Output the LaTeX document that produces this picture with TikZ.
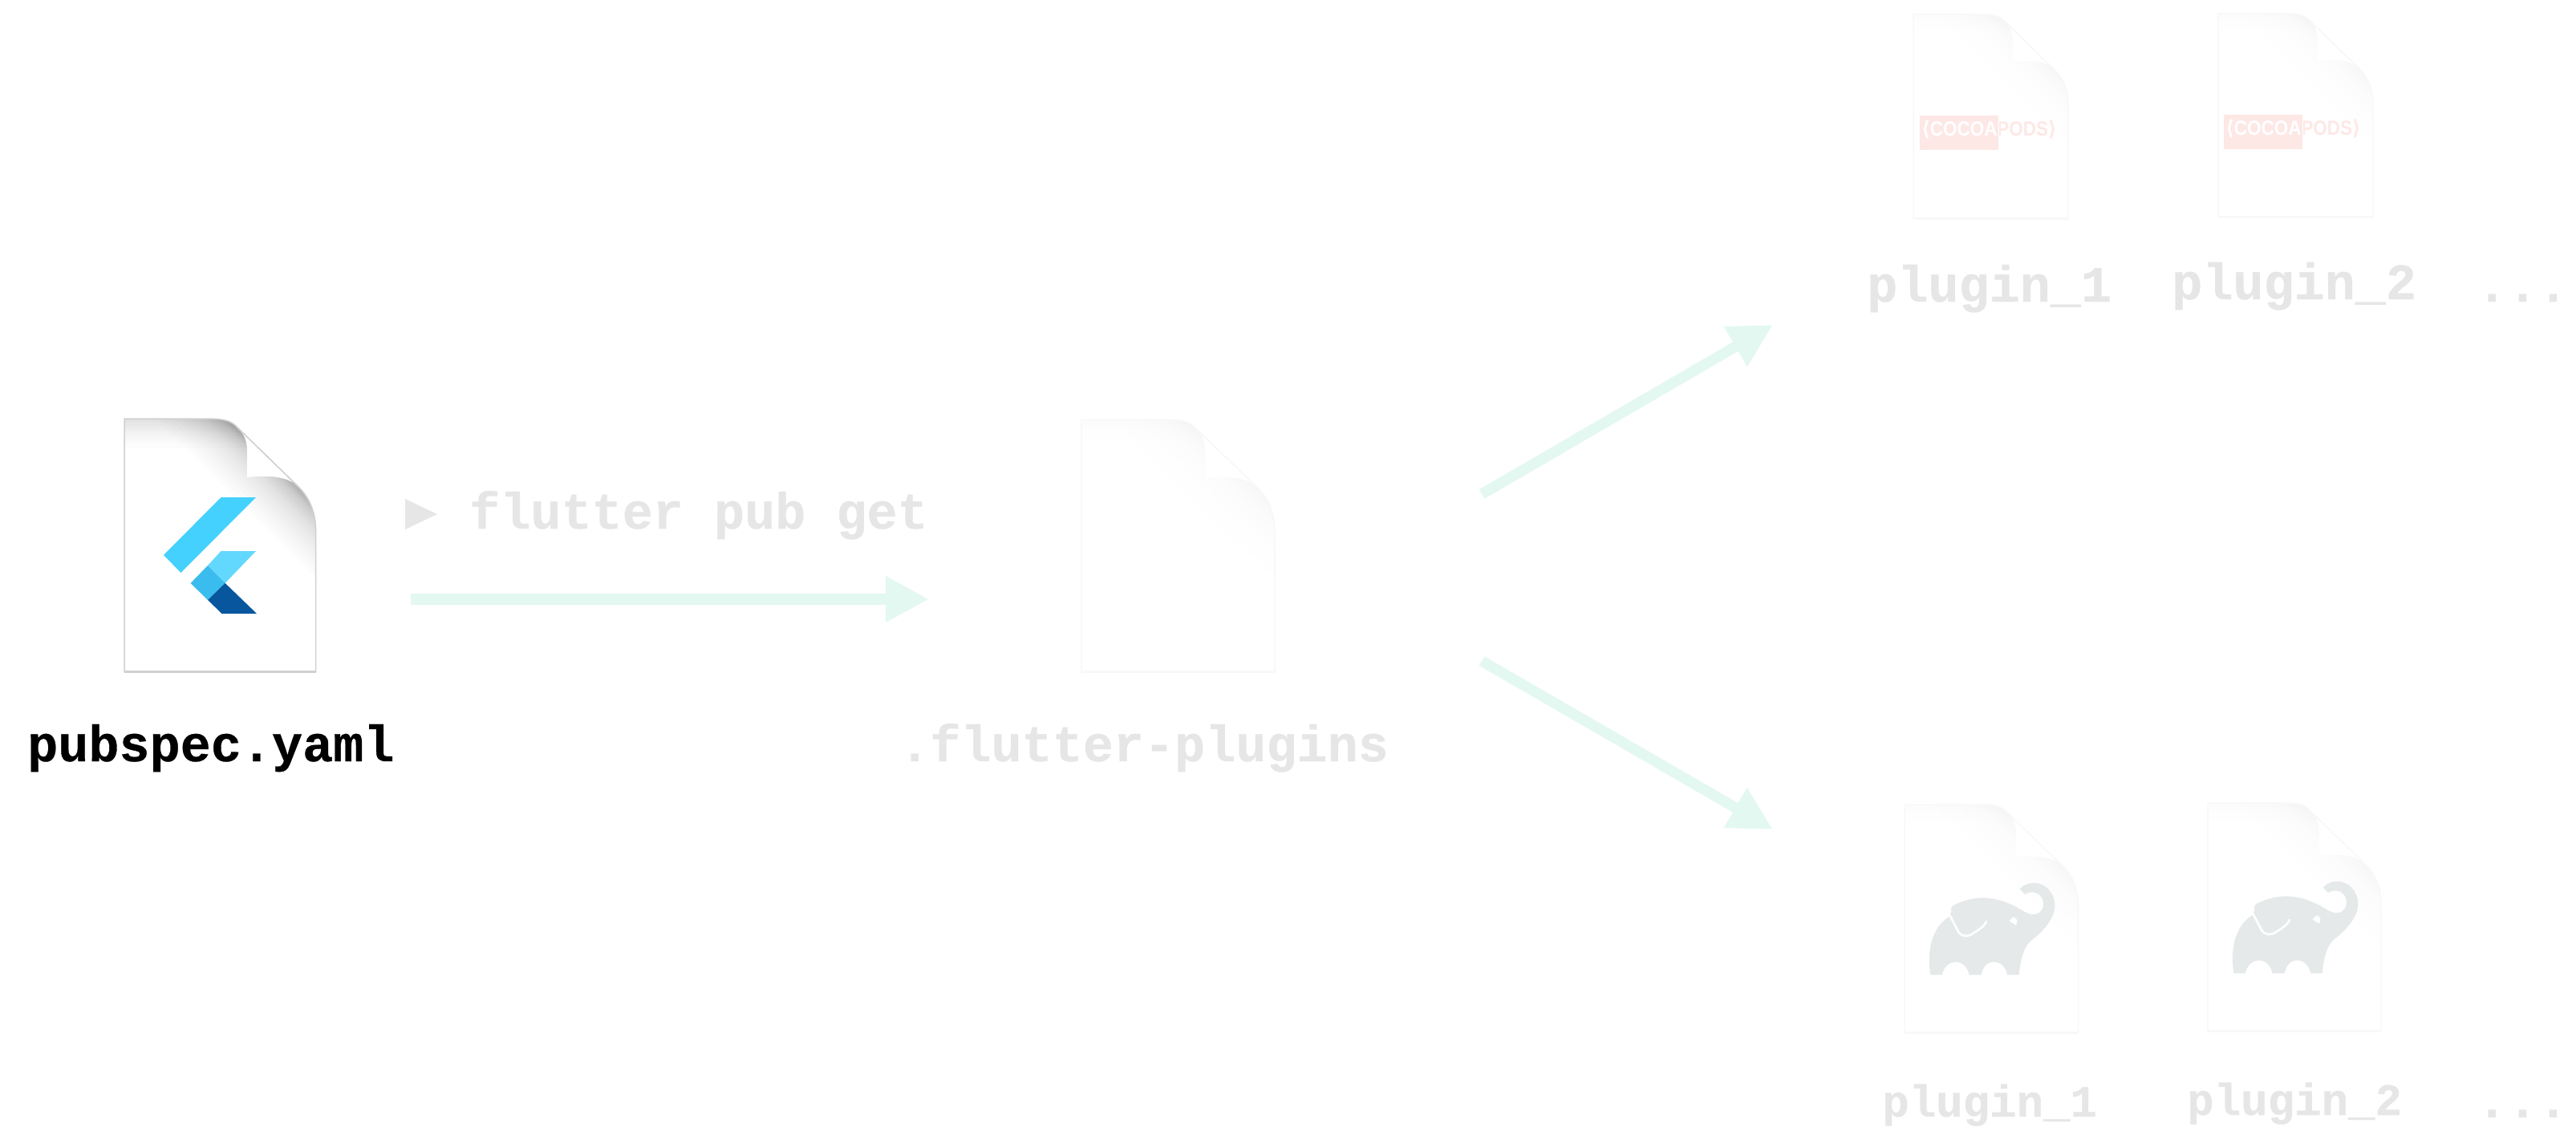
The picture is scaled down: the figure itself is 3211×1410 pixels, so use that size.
\documentclass[tikz,border=0pt]{standalone}
\usepackage{fontspec}
\setmonofont[FakeBold=0.5]{Liberation Mono}
\newfontfamily\cocoafont{Liberation Sans}
\newfontfamily\cocoabr{DejaVu Sans}
\usetikzlibrary{arrows.meta}
\definecolor{arrowc}{HTML}{E3F8F1}
\definecolor{mutedtxt}{HTML}{E6E6E6}
\definecolor{podred}{HTML}{FDE8E6}
\definecolor{eleph}{HTML}{E6E9EA}
\definecolor{fl1}{HTML}{44D1FD}
\definecolor{fl2}{HTML}{63D8FE}
\definecolor{fl3}{HTML}{3ABCEE}
\definecolor{fl4}{HTML}{07569E}
\definecolor{strongedge}{HTML}{D0D0D0}
\definecolor{softedge}{HTML}{F8F8F8}
\tikzset{
  monolabel/.style={anchor=base west,inner sep=0pt,font=\ttfamily\bfseries\fontsize{63.5}{70}\selectfont,text=mutedtxt},
  smalllabel/.style={monolabel,font=\ttfamily\bfseries\fontsize{55.8}{60}\selectfont},
  flowarrow/.style={draw=arrowc,line width=13.3pt,-{Triangle[length=54pt,width=54pt,fill=arrowc]}},
  podtext/.style={anchor=center,inner sep=0pt,font=\fontsize{25.5}{28}\selectfont},
}
\def\docoutline{(0,0) -- (103,0) .. controls (125,0) and (134,3) .. (141,11) -- (215,83) .. controls (230,97) and (238.6,115) .. (238.6,140) -- (238.6,315) -- (0,315) -- cycle}
% #1 x, #2 y, #3 width, #4 height, #5 edge colour, #6 band opacity, #7 diagonal bands, #8 top bands
\newcommand\filedoc[8]{%
  \begin{scope}[shift={(#1,#2)},xscale=#3/238.6,yscale=#4/315]
    \fill[white] \docoutline;
    \begin{scope}
      \clip \docoutline;
      \foreach \d in {#8}{
        \fill[black,fill opacity=#6] (-10,-10) rectangle (260,\d);
      }
      \foreach \d in {#7}{
        \pgfmathsetmacro\px{141-\d*0.7071}
        \pgfmathsetmacro\py{11+\d*0.7071}
        \fill[black,fill opacity=#6] (\px-300,\py-300) -- (\px+300,\py+300) -- (\px+700,\py-700) -- cycle;
      }
    \end{scope}
    \fill[white] (141,11) .. controls (150,20) and (153,28) .. (153,40) -- (153,73) .. controls (180,70) and (202,72) .. (215,83) -- cycle;
    \draw[#5,line width=1.2pt] (141,11) -- (215,83);
    \draw[#5,line width=1.5pt] \docoutline;
    \draw[#5,line width=2.5pt] (0,315.5) -- (238.6,315.5);
  \end{scope}%
}
\newcommand\softdoc[4]{\filedoc{#1}{#2}{#3}{#4}{softedge}{0.004}{64,42,30,21,15,10,6,3}{24,12,5}}
% #1 rect left, #2 rect top, #3 name
\newcommand\podlogo[3]{%
  \def\podword{\scalebox{0.88}[1]{{\cocoabr\bfseries\char"27E8}{\cocoafont\bfseries COCOAPODS}{\cocoabr\bfseries\char"27E9}}}%
  \node[podtext,text=podred] (#3) at (#1+86.5,#2+17.5) {\podword};
  \begin{scope}
    \clip (#1,#2) rectangle (#1+98,#2+43);
    \fill[podred] (#1,#2) rectangle (#1+98,#2+43);
    \node[podtext,text=white] (#3w) at (#1+86.5,#2+17.5) {\podword};
  \end{scope}%
}
% #1 shift x, #2 shift y
\newcommand\gradle[2]{%
  \begin{scope}[shift={(#1,#2)},x=0.581pt,y=-0.3333pt]
    \fill[eleph] (183,706) .. controls (175,620) and (185,530) .. (222,490) -- (228,470) .. controls (225,455) and (230,445) .. (237,442) .. controls (290,400) and (330,420) .. (365,450) .. controls (385,470) and (395,482) .. (405,480) .. controls (420,478) and (427,455) .. (425,435) .. controls (423,405) and (405,385) .. (385,405) -- (375,385) .. controls (385,365) and (400,360) .. (410,363) .. controls (440,370) and (450,420) .. (450,445) .. controls (450,500) and (420,550) .. (400,577) .. controls (382,600) and (375,660) .. (373,706) -- (348,706) .. controls (345,680) and (335,658) .. (319,658) .. controls (303,658) and (295,680) .. (292,706) -- (266,706) .. controls (263,680) and (253,658) .. (237,658) .. controls (221,658) and (211,680) .. (208,706) -- cycle;
    \draw[white,line width=2.6pt,line cap=round] (224,482) -- (243,545) .. controls (250,565) and (265,565) .. (275,550) .. controls (290,535) and (300,520) .. (303,506);
    \fill[white] (360,490) .. controls (372,495) and (370,510) .. (366,520) -- (352,505) -- cycle;
  \end{scope}%
}
\begin{document}
\begin{tikzpicture}[x=1pt,y=-1pt]
\useasboundingbox (0,0) rectangle (3211,1410);
\fill[white] (0,0) rectangle (3211,1410);

% left file with Flutter logo
\filedoc{155}{522}{238.6}{315}{strongedge}{0.01}{64,58,52,47,42,38,34,30,27,24,21,19,17,15,13,11,9.5,8,7,6,5,4,3,2,1}{36,30,25,21,17,14,11,8,5,3}
\fill[fl1] (275.5,620) -- (319,620) -- (225.5,714) -- (204,692) -- cycle;
\fill[fl2] (275.5,687) -- (319,687) -- (280.6,727) -- (259,705) -- cycle;
\fill[fl3] (237.6,727) -- (259,705) -- (280.6,727) -- (259,748) -- cycle;
\fill[fl4] (280.6,727) -- (320,765) -- (276.5,765) -- (259,748) -- cycle;
\node[monolabel,text=black] (pubspec) at (34,949) {pubspec.yaml};

% command
\fill[mutedtxt] (505,622) -- (545,641) -- (505,660) -- cycle;
\node[monolabel] (cmd) at (585,659) {flutter pub get};
\coordinate (a1s) at (511.5,747);
\coordinate (a1e) at (1158,747);
\draw[flowarrow] (a1s) -- (a1e);

% central file
\softdoc{1348}{523}{241}{314}
\node[monolabel] (plugins) at (1121,949) {.flutter-plugins};

% fork arrows
\coordinate (a2s) at (1847,616);
\coordinate (a2e) at (2210,405);
\coordinate (a3s) at (1847,824);
\coordinate (a3e) at (2210,1034);
\draw[flowarrow] (a2s) -- (a2e);
\draw[flowarrow] (a3s) -- (a3e);

% CocoaPods plugins
\softdoc{2385}{18}{193}{254}
\softdoc{2765}{17}{193}{253}
\podlogo{2393}{144}{podA}
\podlogo{2772}{143}{podB}
\node[monolabel] (ta) at (2327,376) {plugin\_1};
\node[monolabel] (tb) at (2707,373) {plugin\_2};
\node[monolabel] (tc) at (3087,376) {...};

% Gradle plugins
\softdoc{2374}{1003}{216.5}{284}
\softdoc{2752}{1001}{216}{284}
\gradle{2300}{980}
\gradle{2678}{978}
\node[smalllabel] (ba) at (2346,1392) {plugin\_1};
\node[smalllabel] (bb) at (2726,1390) {plugin\_2};
\node[monolabel] (bc) at (3087,1393) {...};
\end{tikzpicture}
\end{document}
